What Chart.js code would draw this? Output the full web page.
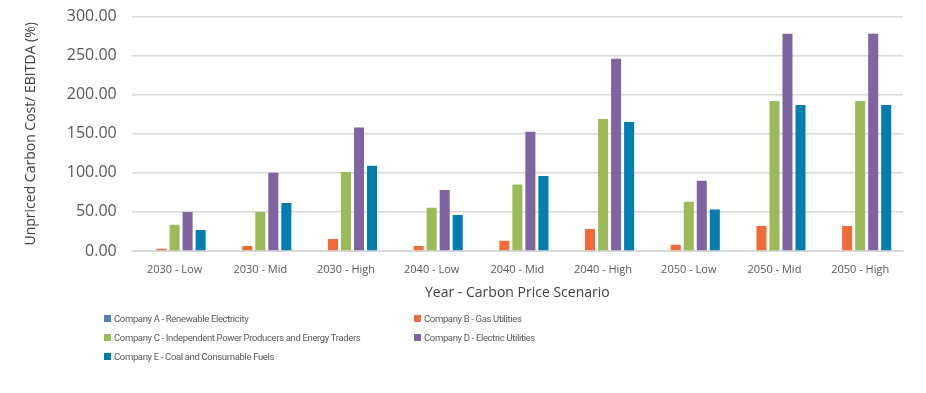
<!DOCTYPE html>
<html>
<head>
<meta charset="utf-8">
<script src="https://cdn.jsdelivr.net/npm/chart.js@4.4.0/dist/chart.umd.min.js"></script>
<style>
  body { margin: 0; background: #fff; }
  #wrap { position: relative; width: 926px; height: 393px; overflow: hidden; }
  #chart { position: absolute; left: 0; top: -8px; }
  #legend { position: absolute; left: 104px; top: 313px; width: 720px;
    font-family: Roboto, "Open Sans", sans-serif; font-size: 9.5px; letter-spacing: -0.35px; color: #595959; }
  .item { position: absolute; white-space: nowrap; }
  .item span { display: inline-block; width: 7px; height: 7px; margin-right: 3px; }
</style>
</head>
<body>
<div id="wrap">
  <canvas id="chart" width="926" height="401"></canvas>
  <div id="legend"></div>
</div>
<script>
const scenarios = ['2030 - Low', '2030 - Mid', '2030 - High', '2040 - Low', '2040 - Mid', '2040 - High', '2050 - Low', '2050 - Mid', '2050 - High'];

const companyA = [0, 0, 0, 0, 0, 0, 0, 0, 0];
const companyB = [3, 6.5, 15.5, 6.5, 13, 28, 8, 32, 32];
const companyC = [33.5, 50, 101, 55.5, 85, 169, 63, 192, 192];
const companyD = [50, 100, 158, 78, 152.5, 246, 90, 278, 278];
const companyE = [27, 61.5, 109, 46, 96, 165, 53, 187, 187];

const seriesNames = [
  'Company A - Renewable Electricity',
  'Company B - Gas Utilities',
  'Company C - Independent Power Producers and Energy Traders',
  'Company D - Electric Utilities',
  'Company E - Coal and Consumable Fuels',
];
const colors = ['#4F81BD', '#F26B38', '#9BBB59', '#8064A2', '#007EB0'];
const values = [companyA, companyB, companyC, companyD, companyE];

const datasets = values.map((data, i) => ({
  label: seriesNames[i],
  data,
  backgroundColor: colors[i],
  categoryPercentage: 0.76,
  barPercentage: 0.77,
}));

const font = '"Open Sans", "Noto Sans", sans-serif';

new Chart(document.getElementById('chart'), {
  type: 'bar',
  data: { labels: scenarios, datasets },
  options: {
    responsive: false,
    animation: false,
    layout: { padding: { left: 19, right: 23, top: 0, bottom: 88 } },
    plugins: { legend: { display: false }, tooltip: { enabled: false } },
    scales: {
      x: {
        grid: { display: false },
        border: { color: '#D9D9D9' },
        ticks: { color: '#595959', font: { family: font, size: 11 }, maxRotation: 0, padding: 4 },
        title: { display: true, text: 'Year - Carbon Price Scenario', color: '#404040',
          font: { family: font, size: 14 }, padding: { top: 4 } },
      },
      y: {
        min: 0, max: 300,
        ticks: { stepSize: 50, color: '#595959', font: { family: font, size: 16 }, padding: 15,
          callback: v => v.toFixed(2) },
        grid: { color: '#D9D9D9', lineWidth: 1.5, drawTicks: false },
        border: { display: false },
        title: { display: true, text: 'Unpriced Carbon Cost/ EBITDA (%)', color: '#404040',
          font: { family: font, size: 14 }, padding: { bottom: 12 } },
      },
    },
  },
});

// two-column legend
const legend = document.getElementById('legend');
const positions = [[0, 0], [310, 0], [0, 19], [310, 19], [0, 38]];
seriesNames.forEach((name, i) => {
  const el = document.createElement('div');
  el.className = 'item';
  el.style.left = positions[i][0] + 'px';
  el.style.top = positions[i][1] + 'px';
  el.innerHTML = `<span style="background:${colors[i]}"></span>${name}`;
  legend.appendChild(el);
});
</script>
</body>
</html>
